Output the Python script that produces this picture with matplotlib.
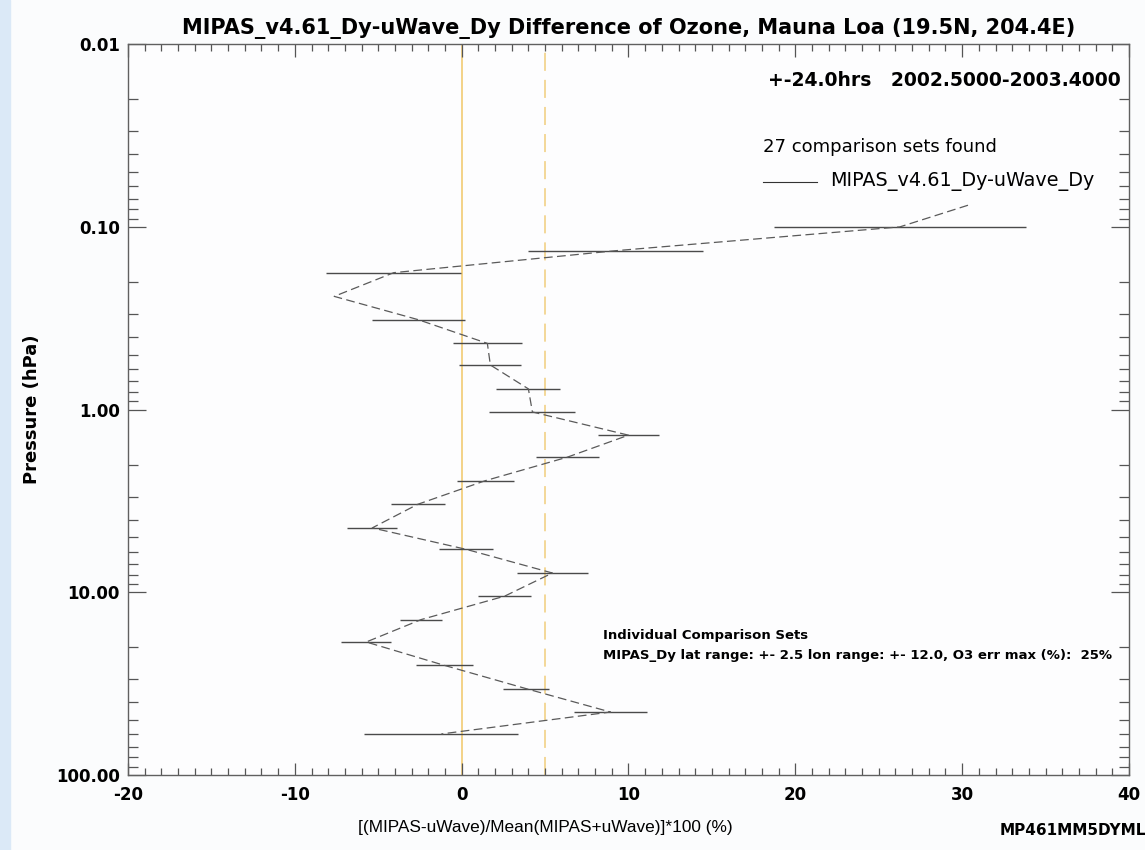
import numpy as np
import matplotlib
matplotlib.use("Agg")
import matplotlib.pyplot as plt
from matplotlib.ticker import FixedLocator, MultipleLocator, FuncFormatter, LogLocator, NullFormatter

plt.rcParams['font.family'] = ['DejaVu Sans']
plt.rcParams['axes.unicode_minus'] = False

# profile: pressure (hPa), percent difference, half width of bar
pressure = np.array([0.0761, 0.1, 0.135, 0.178, 0.24, 0.322, 0.434, 0.57, 0.77, 1.03,
                     1.38, 1.82, 2.45, 3.3, 4.44, 5.82, 7.84, 10.5, 14.1, 18.7,
                     25.1, 33.7, 45.2, 59.6])
diff = np.array([30.35, 26.26, 9.22, -4.07, -7.64, -2.6, 1.54, 1.72, 4.0, 4.24,
                 10.0, 6.34, 1.41, -2.64, -5.36, 0.28, 5.44, 2.57, -2.43, -5.72,
                 -1.04, 3.88, 8.92, -1.22])
err = np.array([np.nan, 7.54, 5.22, 4.05, np.nan, 2.79, 2.07, 1.86, 1.92, 2.58,
                1.84, 1.88, 1.71, 1.62, 1.5, 1.62, 2.13, 1.57, 1.25, 1.5,
                1.7, 1.38, 2.18, 4.62])
ref_lines = [0, 5]
y_ticks = [0.01, 0.1, 1, 10, 100]

fig = plt.figure(figsize=(11.45, 8.5), dpi=100)
fig.patch.set_facecolor('#fbfcfd')
# pale blue strip on the left edge of the frame
fig.patches.append(plt.Rectangle((0, 0), 0.009, 1, transform=fig.transFigure,
                                 color='#dbe9f7', zorder=0))
ax = fig.add_axes([0.1118, 0.0882, 0.8742, 0.8598])
ax.set_facecolor('#fdfdfe')

ax.axvline(ref_lines[0], color='#f3cf7e', lw=1.3, zorder=1)
ax.axvline(ref_lines[1], color='#f3d590', lw=1.3, dashes=(10, 5), zorder=1)

ax.plot(diff, pressure, color='#5a5a5a', lw=0.9, dashes=(7, 3.5), zorder=3)
m = ~np.isnan(err)
ax.errorbar(diff[m], pressure[m], xerr=err[m], fmt='none', ecolor='#4a4a4a',
            elinewidth=1.0, capsize=0, zorder=2)

ax.set_yscale('log')
ax.set_ylim(100, 0.01)
ax.set_xlim(-20, 40)
ax.yaxis.set_major_locator(FixedLocator(y_ticks))
ax.yaxis.set_major_formatter(FuncFormatter(lambda v, p: '%.2f' % v))
ax.yaxis.set_minor_locator(LogLocator(base=10, subs=np.arange(2, 10)))
ax.yaxis.set_minor_formatter(NullFormatter())
ax.xaxis.set_major_locator(MultipleLocator(10))
ax.xaxis.set_minor_locator(MultipleLocator(1))

ax.tick_params(axis='both', which='both', direction='in', top=True, right=True,
               color='#555555', width=0.9)
ax.tick_params(axis='y', which='major', length=13, pad=6)
ax.tick_params(axis='y', which='minor', length=7)
ax.tick_params(axis='x', which='major', length=9, pad=8)
ax.tick_params(axis='x', which='minor', length=5)
for lab in ax.get_xticklabels() + ax.get_yticklabels():
    lab.set_fontweight('bold')
    lab.set_fontsize(12)
for s in ax.spines.values():
    s.set_color('#606060')
    s.set_linewidth(1.0)

ax.set_title('MIPAS_v4.61_Dy-uWave_Dy Difference of Ozone, Mauna Loa (19.5N, 204.4E)',
             fontsize=15, fontweight='bold', pad=7)
ax.set_ylabel('Pressure (hPa)', fontsize=13, fontweight='bold', labelpad=11)
fig.text(0.476, 0.026, '[(MIPAS-uWave)/Mean(MIPAS+uWave)]*100 (%)', fontsize=12.4,
         family=['Liberation Sans'], ha='center', va='center')
fig.text(0.873, 0.023, 'MP461MM5DYML', fontsize=11, fontweight='bold',
         ha='left', va='center')

ax.text(0.992, 0.95, '+-24.0hrs   2002.5000-2003.4000', transform=ax.transAxes,
        fontsize=13.5, fontweight='bold', ha='right', va='center')
ax.text(0.634, 0.86, '27 comparison sets found', transform=ax.transAxes,
        fontsize=13, ha='left', va='center')
ax.plot([0.634, 0.688], [0.812, 0.812], transform=ax.transAxes, color='#333333', lw=0.8)
ax.text(0.701, 0.812, 'MIPAS_v4.61_Dy-uWave_Dy', transform=ax.transAxes,
        fontsize=13.8, ha='left', va='center')
ax.text(0.475, 0.191, 'Individual Comparison Sets', transform=ax.transAxes,
        fontsize=9.5, fontweight='bold', ha='left', va='center')
ax.text(0.475, 0.163, 'MIPAS_Dy lat range: +- 2.5 lon range: +- 12.0, O3 err max (%):  25%',
        transform=ax.transAxes, fontsize=9.5, fontweight='bold', ha='left', va='center')

fig.savefig('out.png', dpi=100, facecolor=fig.get_facecolor())
